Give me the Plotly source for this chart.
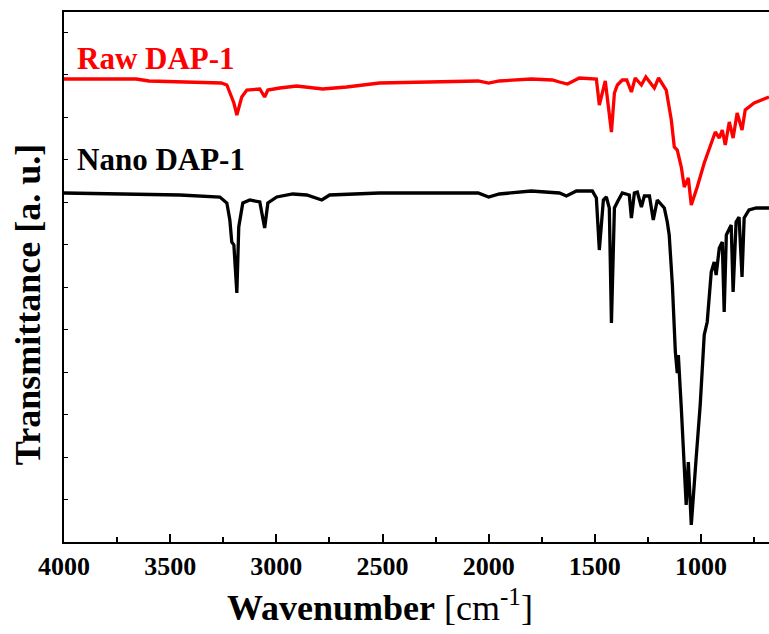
import plotly.graph_objects as go

# Raw DAP-1 (red) : wavenumber [cm-1], transmittance [a.u.]
raw_wn = [4000, 3660, 3600, 3454, 3260, 3233, 3219, 3200, 3186, 3163, 3139, 3078, 3055, 3040,
          2984, 2904, 2782, 2669, 2514, 2300, 2050, 2000, 1950, 1800, 1700, 1667, 1629, 1573,
          1493, 1479, 1451, 1422, 1408, 1394, 1371, 1350, 1328, 1310, 1281, 1260, 1220, 1200,
          1164, 1140, 1126, 1112, 1093, 1079, 1060, 1046, 1018, 985, 952, 933, 914, 900, 886,
          867, 849, 830, 807, 792, 750, 680]
raw_t = [463, 463, 461, 460, 459, 457, 450, 439, 427, 445, 452, 453, 445, 452,
         454, 456, 453, 455, 459, 460, 461, 459, 461, 463, 462, 460, 458, 464,
         463, 437, 461, 410, 449, 457, 462, 462, 450, 464, 457, 465, 454, 464,
         452, 422, 395, 392, 375, 355, 364, 337, 355, 379, 399, 410, 404, 412, 397,
         420, 404, 429, 412, 432, 439, 445]

# Nano DAP-1 (black)
nano_wn = [4000, 3454, 3266, 3233, 3219, 3210, 3200, 3186, 3177, 3158, 3125, 3078, 3055, 3040,
           2998, 2923, 2857, 2786, 2749, 2514, 2300, 2050, 2000, 1950, 1800, 1700, 1667, 1634,
           1587, 1512, 1493, 1479, 1460, 1446, 1432, 1422, 1408, 1394, 1371, 1338, 1328, 1314,
           1300, 1281, 1267, 1243, 1225, 1206, 1183, 1173, 1159, 1150, 1135, 1121, 1112, 1107,
           1093, 1079, 1070, 1060, 1046, 1023, 1004, 985, 971, 952, 938, 929, 914, 900, 891,
           881, 858, 849, 835, 821, 807, 797, 774, 740, 680]
nano_t = [349, 347, 345, 339, 322, 300, 297, 249, 315, 339, 342, 340, 314, 339,
          345, 348, 347, 342, 347, 349, 349, 349, 345, 348, 351, 350, 349, 346,
          351, 351, 344, 292, 342, 345, 334, 219, 334, 340, 349, 347, 324, 349,
          350, 335, 346, 346, 322, 342, 337, 334, 320, 307, 257, 190, 169, 187,
          134, 77, 37, 80, 17, 84, 137, 207, 220, 270, 280, 267, 294, 300, 230,
          307, 317, 250, 320, 325, 265, 324, 332, 334, 334]

x_ticks = [4000, 3500, 3000, 2500, 2000, 1500, 1000]
series_names = ["Raw DAP-1", "Nano DAP-1"]
series_colors = ["#ff0000", "#000000"]

FONT = "Liberation Serif"

fig = go.Figure()
fig.add_trace(go.Scatter(x=raw_wn, y=raw_t, mode="lines", name=series_names[0],
                         line=dict(color=series_colors[0], width=3.3)))
fig.add_trace(go.Scatter(x=nano_wn, y=nano_t, mode="lines", name=series_names[1],
                         line=dict(color=series_colors[1], width=3.3)))

fig.update_layout(
    width=769, height=634,
    margin=dict(l=64, r=0, t=12, b=92),
    paper_bgcolor="white", plot_bgcolor="white",
    showlegend=False,
    font=dict(family=FONT, color="black"),
)
fig.update_xaxes(
    range=[4000, 680],
    tickmode="array", tickvals=x_ticks, ticktext=[f"<b>{v}</b>" for v in x_ticks],
    ticks="inside", ticklen=8, tickwidth=1.5, tickcolor="black",
    minor=dict(ticks="inside", ticklen=5, tickwidth=1.5, tickcolor="black", dtick=250, tick0=0),
    showline=True, linecolor="black", linewidth=2, mirror=True,
    showgrid=False, zeroline=False,
    tickfont=dict(family=FONT, size=26, color="black"),
)
fig.update_yaxes(
    range=[0, 530],
    tickmode="linear", tick0=0, dtick=42.5,
    ticks="inside", ticklen=4, tickwidth=1.2, tickcolor="black",
    showticklabels=False,
    showline=True, linecolor="black", linewidth=2, mirror=False,
    showgrid=False, zeroline=False,
)

fig.add_annotation(text="<b>Wavenumber</b> [cm<sup>-1</sup>]", xref="paper", yref="paper",
                   x=0.448, y=-0.119, xanchor="center", yanchor="middle", showarrow=False,
                   font=dict(family=FONT, size=36, color="black"))
fig.add_annotation(text="<b>Transmittance [a. u.]</b>", xref="paper", yref="paper",
                   x=-0.051, y=0.447, xanchor="center", yanchor="middle", textangle=-90,
                   showarrow=False, font=dict(family=FONT, size=36, color="black"))
fig.add_annotation(text="<b>" + series_names[0] + "</b>", xref="paper", yref="paper",
                   x=0.016, y=0.913, xanchor="left", yanchor="middle", showarrow=False,
                   font=dict(family=FONT, size=31, color=series_colors[0]))
fig.add_annotation(text="<b>" + series_names[1] + "</b>", xref="paper", yref="paper",
                   x=0.016, y=0.721, xanchor="left", yanchor="middle", showarrow=False,
                   font=dict(family=FONT, size=31, color=series_colors[1]))

fig.write_html("out.html", config={"displayModeBar": False},
               post_script="document.body.style.margin='0';")
